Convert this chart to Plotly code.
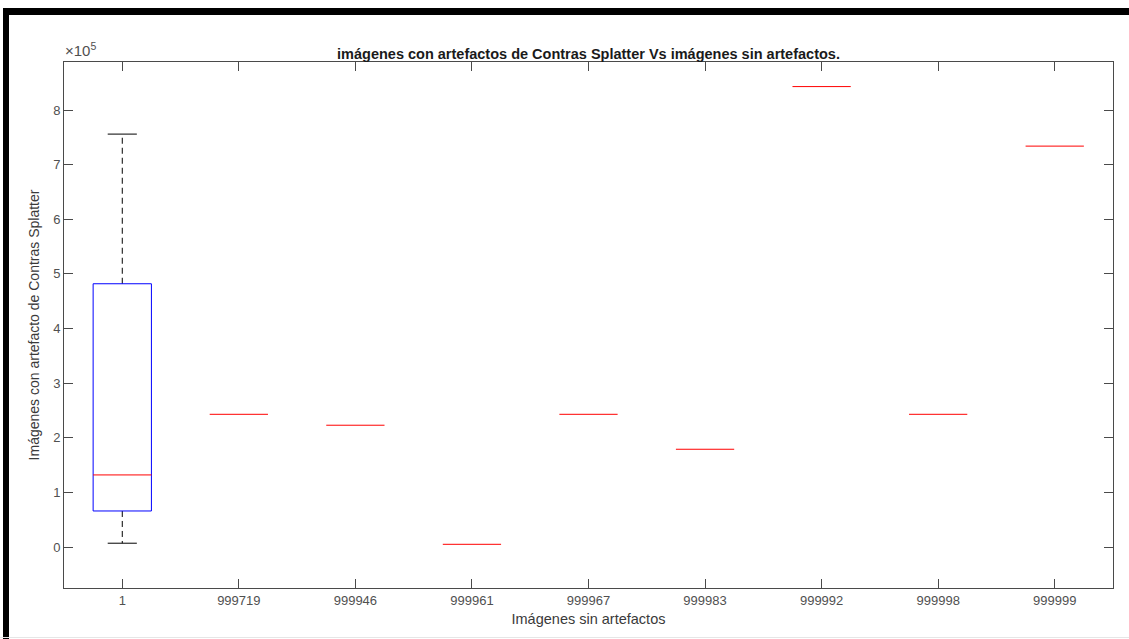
import plotly.graph_objects as go

# Group labels along the x axis
categories = ["1", "999719", "999946", "999961", "999967", "999983", "999992", "999998", "999999"]

# Box statistics for the first group (the only one with spread)
box_q1 = 66000
box_median = 132000
box_q3 = 482000
whisker_low = 7000
whisker_high = 756000

# Single-value groups: median only
single_values = [243000, 223000, 5000, 243000, 179000, 843000, 243000, 734000]

y_ticks = [0, 100000, 200000, 300000, 400000, 500000, 600000, 700000, 800000]
y_tick_text = ["0", "1", "2", "3", "4", "5", "6", "7", "8"]

W, H = 1129, 639
L, R, T, B = 64, 1113, 62, 588

BOX_HALF = 0.25
CAP_HALF = 0.125
BLUE = "#0000ff"
RED = "#ff0000"
BLACK = "#000000"
AX = "#4a4a4a"
FONT = "Liberation Sans, Arial, sans-serif"

fig = go.Figure()

xpos = list(range(1, len(categories) + 1))
x0 = xpos[0]

# whiskers (dashed)
fig.add_trace(go.Scatter(x=[x0, x0], y=[box_q3, whisker_high], mode="lines",
                         line=dict(color=BLACK, width=1, dash="6px,4px"), hoverinfo="skip"))
fig.add_trace(go.Scatter(x=[x0, x0], y=[box_q1, whisker_low], mode="lines",
                         line=dict(color=BLACK, width=1, dash="6px,4px"), hoverinfo="skip"))
# whisker caps
for v in (whisker_high, whisker_low):
    fig.add_trace(go.Scatter(x=[x0 - CAP_HALF, x0 + CAP_HALF], y=[v, v], mode="lines",
                             line=dict(color=BLACK, width=1), hoverinfo="skip"))
# box outline
fig.add_trace(go.Scatter(
    x=[x0 - BOX_HALF, x0 + BOX_HALF, x0 + BOX_HALF, x0 - BOX_HALF, x0 - BOX_HALF],
    y=[box_q1, box_q1, box_q3, box_q3, box_q1],
    mode="lines", line=dict(color=BLUE, width=1), hoverinfo="skip"))
# medians
medians = [box_median] + single_values
for xp, m in zip(xpos, medians):
    fig.add_trace(go.Scatter(x=[xp - BOX_HALF, xp + BOX_HALF], y=[m, m], mode="lines",
                             line=dict(color=RED, width=1), hoverinfo="skip"))

def px_x(p):
    return (p - L) / (R - L)

def px_y(p):
    return (B - p) / (B - T)

shapes = [
    # frame bars around the figure
    dict(type="rect", xref="paper", yref="paper", x0=px_x(3), x1=px_x(1129),
         y0=px_y(15), y1=px_y(8), fillcolor="black", line=dict(width=0), layer="above"),
    dict(type="rect", xref="paper", yref="paper", x0=px_x(3), x1=px_x(9),
         y0=px_y(639), y1=px_y(8), fillcolor="black", line=dict(width=0), layer="above"),
    dict(type="line", xref="paper", yref="paper", x0=px_x(0), x1=px_x(1129),
         y0=px_y(637.5), y1=px_y(637.5), line=dict(color="#e6e6e6", width=1)),
]

fig.update_layout(
    width=W, height=H,
    margin=dict(l=L, r=W - R, t=T, b=H - B),
    paper_bgcolor="white", plot_bgcolor="white",
    showlegend=False,
    font=dict(family=FONT, color="#3a3a3a", size=13),
    title=dict(text="<b>imágenes con artefactos de Contras Splatter Vs imágenes sin artefactos.</b>",
               x=(L + R) / 2 / W, xanchor="center", xref="container",
               y=1 - 59 / H, yanchor="bottom", yref="container",
               font=dict(family=FONT, size=14.5, color="#1a1a1a")),
    xaxis=dict(range=[0.5, len(categories) + 0.5], tickvals=xpos, ticktext=categories,
               ticks="inside", ticklen=9, tickcolor=AX, showline=True, linecolor=AX,
               linewidth=1, mirror="ticks", showgrid=False, zeroline=False,
               tickfont=dict(size=13, color="#505050"),
               title=dict(text="Imágenes sin artefactos", standoff=7,
                          font=dict(size=14.5, color="#3a3a3a"))),
    yaxis=dict(range=[-75000, 888000], tickvals=y_ticks, ticktext=y_tick_text,
               ticks="inside", ticklen=9, tickcolor=AX, showline=True, linecolor=AX,
               linewidth=1, mirror="ticks", showgrid=False, zeroline=False,
               tickfont=dict(size=13, color="#505050"),
               title=dict(text="Imágenes con artefacto de Contras Splatter", standoff=10,
                          font=dict(size=14, color="#3a3a3a"))),
    shapes=shapes,
    annotations=[dict(text="×10<sup>5</sup>", xref="paper", yref="paper",
                      x=px_x(63), y=px_y(61), xanchor="left", yanchor="bottom",
                      showarrow=False, font=dict(size=15, color="#505050"))],
)

fig.write_html("out.html")
